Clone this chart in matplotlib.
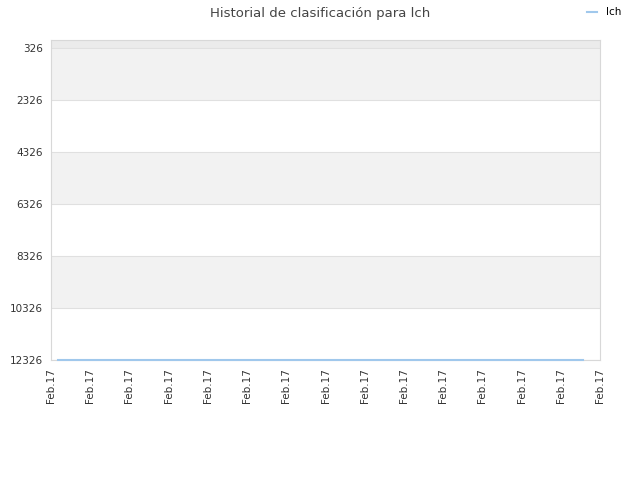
import matplotlib
matplotlib.use("Agg")
import matplotlib.pyplot as plt

# ranking history (lower is better, axis inverted)
fechas = [0.18, 13.57]
posiciones = [12326, 12326]
etiquetas_x = ["Feb.17"] * 15
ticks_y = [326, 2326, 4326, 6326, 8326, 10326, 12326]

fig = plt.figure(figsize=(6.4, 4.8), dpi=100)
ax = fig.add_axes([51 / 640, 120 / 480, 549 / 640, 320 / 480])

# alternating bands
for i in range(len(ticks_y) - 1):
    if i % 2 == 0:
        ax.axhspan(ticks_y[i], ticks_y[i + 1], color="#f2f2f2", zorder=0, lw=0)
ax.axhspan(0, ticks_y[0], color="#ebebeb", zorder=0, lw=0)

for t in ticks_y:
    ax.axhline(t, color="#e0e0e0", lw=0.8, zorder=1)

ax.plot(fechas, posiciones, color="#a0c8ec", lw=1.5, label="lch", zorder=5,
        clip_on=False)

ax.set_ylim(12326, 0)
ax.set_xlim(0, len(etiquetas_x) - 1)
ax.set_yticks(ticks_y)
ax.set_yticklabels([str(t) for t in ticks_y])
ax.set_xticks(range(len(etiquetas_x)))
ax.set_xticklabels(etiquetas_x, rotation=90)
ax.tick_params(length=0, labelsize=7.5, colors="#333333", pad=6)

for s in ax.spines.values():
    s.set_color("#d8d8d8")

fig.text(0.5, 0.972, "Historial de clasificación para lch", ha="center", va="center",
         fontsize=9.5, color="#444444")
fig.legend(loc="upper right", bbox_to_anchor=(0.982, 1.0), frameon=False, fontsize=7.5,
           handlelength=1.0, handletextpad=0.8, borderaxespad=0.3)

fig.savefig("out.png", dpi=100)
